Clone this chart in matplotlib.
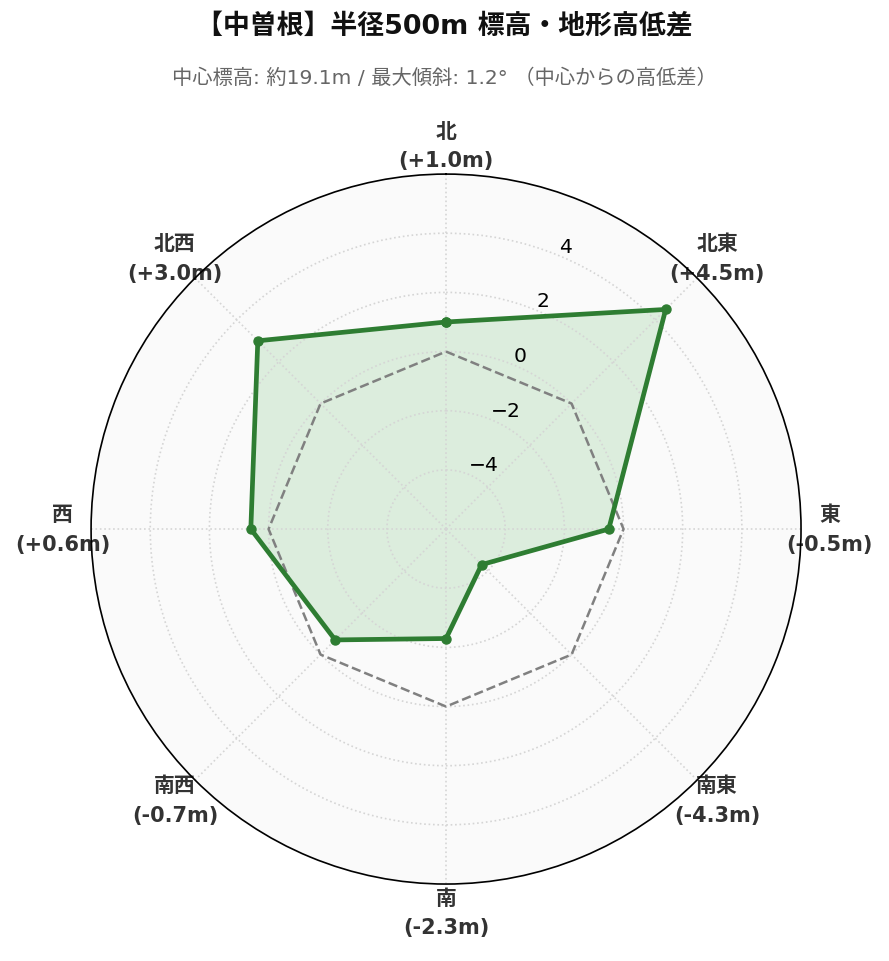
import numpy as np
import matplotlib
matplotlib.use("Agg")
import matplotlib.pyplot as plt

plt.rcParams['font.family'] = ['DejaVu Sans', 'Noto Sans CJK JP']

directions = ["北", "北東", "東", "南東", "南", "南西", "西", "北西"]
diffs = [1.0, 4.5, -0.5, -4.3, -2.3, -0.7, 0.6, 3.0]
rticks = [-4, -2, 0, 2, 4]
title = "【中曽根】半径500m 標高・地形高低差"
subtitle = "中心標高: 約19.1m / 最大傾斜: 1.2° （中心からの高低差）"

n = len(directions)
angles = np.linspace(0, 2 * np.pi, n, endpoint=False)
ang_c = np.concatenate([angles, angles[:1]])
val_c = np.concatenate([diffs, diffs[:1]])

fig = plt.figure(figsize=(8.89, 9.62), dpi=100)
ax = fig.add_axes([0.1024, 0.080, 0.7987, 0.738], projection='polar')
ax.set_facecolor('#fafafa')
ax.set_theta_zero_location('N')
ax.set_theta_direction(-1)
ax.set_ylim(-6, 6)

ax.plot(ang_c, np.zeros_like(ang_c), linestyle='--', color='gray', linewidth=1.8)
ax.fill(ang_c, val_c, color='#4caf50', alpha=0.17)
ax.plot(ang_c, val_c, color='#2e7d32', linewidth=3.4, marker='o', markersize=6.5)

ax.set_xticks(angles)
ax.set_xticklabels([f"{d}\n({v:+.1f}m)" for d, v in zip(directions, diffs)],
                   fontsize=15, fontweight='bold', color='#333333')
for lbl in ax.get_xticklabels():
    lbl.set_linespacing(1.6)
ax.tick_params(axis='x', pad=10)
ax.set_yticks(rticks)
ax.set_yticklabels([f"{t}" if t >= 0 else f"\u2212{abs(t)}" for t in rticks],
                   fontsize=14.6)
ax.set_rlabel_position(22.5)
ax.grid(True, linestyle=':', color='#d5d5d5', linewidth=1.2)
ax.spines['polar'].set_linewidth(1.2)
ax.spines['polar'].set_color('black')

fig.text(0.5, 0.972, title, ha='center', va='center', fontsize=19.4, fontweight='bold', color='#111111')
fig.text(0.5, 0.919, subtitle, ha='center', va='center', fontsize=14.6, color='#666666')

fig.savefig('out.png', dpi=100)
